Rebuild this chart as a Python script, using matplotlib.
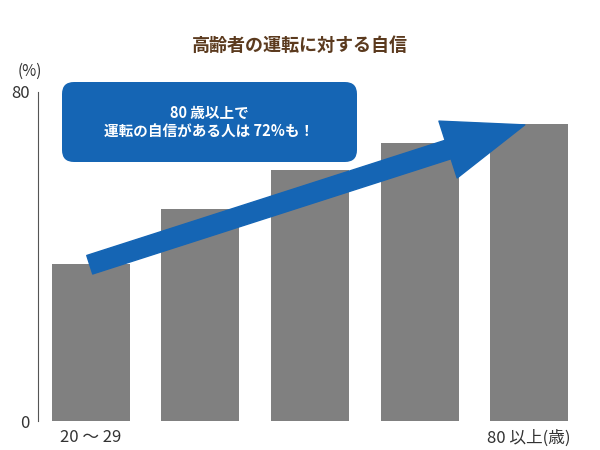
import matplotlib
matplotlib.use("Agg")
import matplotlib.pyplot as plt
from matplotlib.patches import FancyBboxPatch

plt.rcParams['font.family'] = ['Noto Sans CJK JP', 'DejaVu Sans']

# Values (%)
age_groups = ["20 ～ 29", "30代", "40代", "50代", "80 以上"]
confidence = [38.2, 51.6, 61.0, 67.6, 72.2]

fig = plt.figure(figsize=(6, 4.5), dpi=100)
ax = fig.add_axes([0.063, 0.0644, 0.904, 0.7312])

x = list(range(len(confidence)))
ax.bar(x, confidence, width=0.712, color="#808080", zorder=2)
ax.set_xlim(-0.484, 4.466)
ax.set_ylim(0, 80)

for s in ["top", "right", "bottom"]:
    ax.spines[s].set_visible(False)
ax.spines["left"].set_color("#555555")
ax.set_xticks([])
ax.set_yticks([0, 80])
ax.set_yticklabels(["0", "80"], fontsize=12, color="#333333")
ax.tick_params(axis="y", length=0, pad=6)
ax.text(-0.56, 83, "(%)", fontsize=11, color="#333333", ha="center", va="bottom")
ax.text(0, -2, age_groups[0], fontsize=12, color="#333333", ha="center", va="top")
ax.text(4.0, -2, "80 以上(歳)", fontsize=12, color="#333333", ha="center", va="top")

fig.text(0.5, 0.9, "高齢者の運転に対する自信", fontsize=13, fontweight="bold",
         color="#5b3a1e", ha="center", va="center")

# message box
box = FancyBboxPatch((62, 450 - 162), 295, 80, boxstyle="round,pad=0,rounding_size=12",
                     transform=None, facecolor="#1565b4", edgecolor="none", zorder=5)
fig.patches.append(box)
fig.text(209.5 / 600, 1 - 122 / 450, "80 歳以上で\n運転の自信がある人は 72%も！",
         fontsize=10.5, fontweight="bold", color="white", ha="center", va="center",
         linespacing=1.1, zorder=6)

# trend arrow
ax.annotate("", xy=(3.96, 72), xytext=(-0.01, 38),
            arrowprops=dict(arrowstyle="simple,head_length=58,head_width=43,tail_width=14",
                            mutation_scale=1, color="#1565b4", shrinkA=0, shrinkB=0),
            zorder=4)

fig.savefig("out.png", dpi=100)
